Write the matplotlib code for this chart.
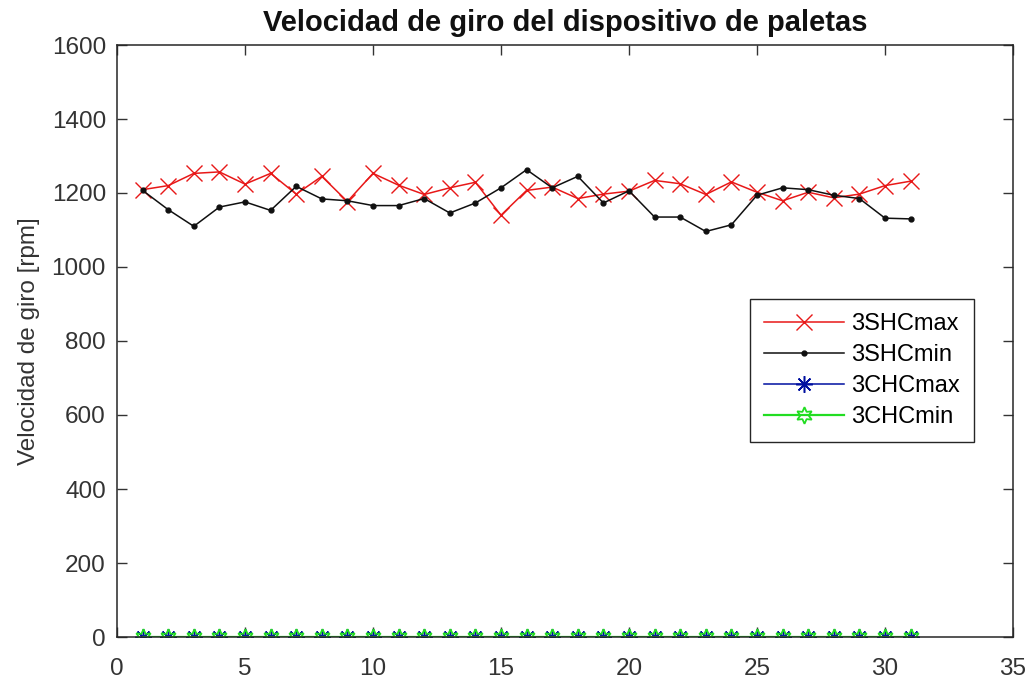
import numpy as np
import matplotlib
matplotlib.use("Agg")
from matplotlib import pyplot as plt

# Data
ensayo = list(range(1, 32))
shc_max = [1209, 1220, 1253, 1257, 1224, 1253, 1197, 1245, 1177, 1253,
           1221, 1196, 1214, 1229, 1140, 1207, 1216, 1185, 1197, 1205,
           1234, 1225, 1196, 1230, 1202, 1179, 1202, 1187, 1197, 1220, 1232]
shc_min = [1207, 1155, 1110, 1162, 1176, 1153, 1218, 1184, 1179, 1166,
           1166, 1185, 1146, 1173, 1214, 1263, 1214, 1245, 1173, 1206,
           1135, 1135, 1096, 1114, 1194, 1214, 1209, 1194, 1185, 1132, 1130]
chc_max = [0] * 31
chc_min = [0] * 31

plt.rcParams['font.family'] = ['Liberation Sans', 'DejaVu Sans']

fig = plt.figure(figsize=(10.29, 6.82), dpi=100)
ax = fig.add_axes([117 / 1029, 1 - 637 / 682, (1013 - 117) / 1029, (637 - 45) / 682])

ax.plot(ensayo, shc_max, color='#e81818', marker='x', markersize=11, lw=1.1,
        label='3SHCmax')
ax.plot(ensayo, shc_min, color='#101010', marker='.', markersize=7, lw=1.1,
        label='3SHCmin')
ax.plot(ensayo, chc_max, color='#0010a0', marker=(8, 2, 0), markersize=12, lw=1.1,
        markeredgewidth=1.1, label='3CHCmax')
ax.plot(ensayo, chc_min, color='#22dd22', marker=(6, 1, 0), markersize=12, lw=1.6,
        markerfacecolor='none', markeredgewidth=1.3, label='3CHCmin')

ax.set_xlim(0, 35)
ax.set_ylim(0, 1600)
ax.set_xticks(np.arange(0, 36, 5))
ax.set_yticks(np.arange(0, 1601, 200))
ax.tick_params(direction='in', length=7, width=1, labelsize=17.5,
               colors='#333333', top=True, right=True)
ax.tick_params(axis='x', pad=15)
ax.tick_params(axis='y', pad=8)
for s in ax.spines.values():
    s.set_color('#262626')
    s.set_linewidth(1.1)

ax.set_ylabel('Velocidad de giro [rpm]', fontsize=17.5, color='#333333', labelpad=8)
ax.set_title('Velocidad de giro del dispositivo de paletas', fontsize=21,
             fontweight='bold', color='#111111', pad=10)

leg = ax.legend(loc='upper left', bbox_to_anchor=((750 - 117) / 896, 1 - (299 - 45) / 592),
                fontsize=17, fancybox=False, framealpha=1, handlelength=3.4,
                handletextpad=0.3, borderpad=0.6, labelspacing=0.38, borderaxespad=0)
leg.get_frame().set_edgecolor('#262626')
leg.get_frame().set_linewidth(1.0)

fig.savefig('out.png', dpi=100)
